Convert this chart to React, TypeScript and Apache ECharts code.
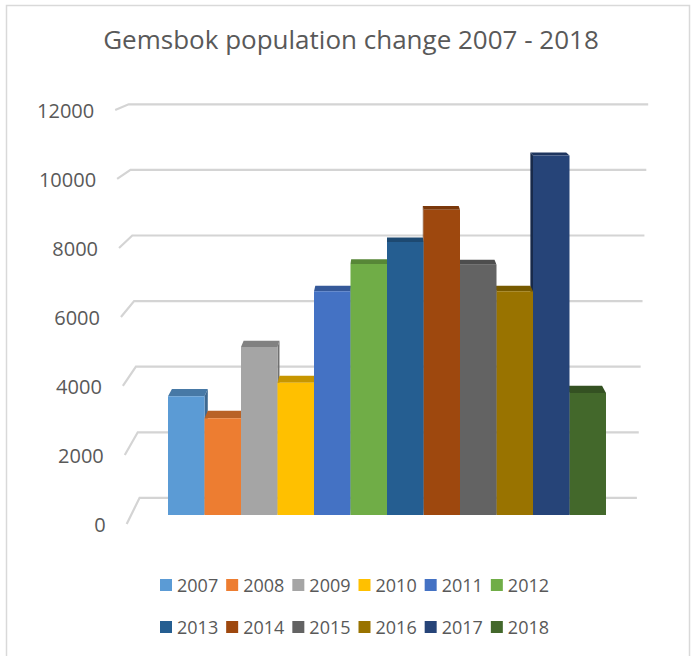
import React, { useEffect, useRef } from 'react';
import * as echarts from 'echarts';

const YEARS = ['2007', '2008', '2009', '2010', '2011', '2012', '2013', '2014', '2015', '2016', '2017', '2018'];
const POPULATION = [3500, 2850, 4950, 3900, 6600, 7400, 8050, 9000, 7380, 6600, 10600, 3600];
const TICKS = [0, 2000, 4000, 6000, 8000, 10000, 12000];
const COLORS = ['#5B9BD5', '#ED7D31', '#A5A5A5', '#FFC000', '#4472C4', '#70AD47', '#255E91', '#9E480E', '#636363', '#997300', '#264478', '#43682B'];

const Y_MAX = 12000;
const CENTER = 5.5; // centre of the bar row in category units
const V_VALUE = 15300; // height of the vanishing point in value units
const K_BACK = 0.982; // depth of the bars' back faces
const K_WALL = 0.967; // depth of the back wall
const K_FRONT = 1.0173; // depth of the front edge of the floor
const WALL_LEFT = [-1.51, -1.82];
const WALL_RIGHT = [12.58, 12.9];
const FONT = '"Open Sans", "Noto Sans", sans-serif';
const TEXT = '#595959';

function shade(hex: string, f: number): string {
  const n = parseInt(hex.slice(1), 16);
  const r = Math.round(((n >> 16) & 255) * f);
  const g = Math.round(((n >> 8) & 255) * f);
  const b = Math.round((n & 255) * f);
  return `rgb(${r},${g},${b})`;
}

function toward(V: number[], p: number[], k: number): number[] {
  return [V[0] + (p[0] - V[0]) * k, V[1] + (p[1] - V[1]) * k];
}

export default function App() {
  const ref = useRef<HTMLDivElement>(null);

  useEffect(() => {
    document.body.style.margin = '0';
    if (!ref.current) return;
    const chart = echarts.init(ref.current, undefined, { renderer: 'svg' });

    const wallSeries: any = {
      type: 'custom',
      name: 'wall',
      z: 1,
      silent: true,
      clip: false,
      data: TICKS.map((v) => [CENTER, v]),
      encode: { x: 0, y: 1 },
      renderItem: (params: any, api: any) => {
        const v = api.value(1);
        const t = v / Y_MAX;
        const V = api.coord([CENTER, V_VALUE]);
        const pl = api.coord([WALL_LEFT[0] + (WALL_LEFT[1] - WALL_LEFT[0]) * t, v]);
        const pr = api.coord([WALL_RIGHT[0] + (WALL_RIGHT[1] - WALL_RIGHT[0]) * t, v]);
        const front = toward(V, pl, K_FRONT);
        const wl = toward(V, pl, K_WALL);
        const wr = toward(V, pr, K_WALL);
        return {
          type: 'group',
          children: [
            {
              type: 'polyline',
              shape: { points: [front, wl, wr] },
              style: { stroke: '#d4d4d4', lineWidth: 2.2, fill: null },
            },
            {
              type: 'text',
              x: front[0] - 21,
              y: front[1] + 1,
              style: {
                text: String(v),
                fill: TEXT,
                fontSize: 20,
                fontFamily: FONT,
                align: 'right',
                verticalAlign: 'middle',
              },
            },
          ],
        };
      },
    };

    const barSeries = YEARS.map((year, i) => {
      const color = COLORS[i];
      return {
        type: 'custom',
        name: year,
        z: 2 + (i <= 5 ? i : 11 - i),
        clip: false,
        itemStyle: { color },
        data: [[i, POPULATION[i]]],
        encode: { x: 0, y: 1 },
        renderItem: (params: any, api: any) => {
          const x = api.value(0);
          const v = api.value(1);
          const V = api.coord([CENTER, V_VALUE]);
          const bl = api.coord([x - 0.5, 0]);
          const tr = api.coord([x + 0.5, v]);
          const ftl = [bl[0], tr[1]];
          const ftr = [tr[0], tr[1]];
          const fbr = [tr[0], bl[1]];
          const fbl = [bl[0], bl[1]];
          const back = (p: number[]) => toward(V, p, K_BACK);
          const children: any[] = [];
          if (ftr[0] <= V[0] + 0.5) {
            children.push({
              type: 'polygon',
              shape: { points: [ftr, back(ftr), back(fbr), fbr] },
              style: { fill: shade(color, 0.68) },
            });
          } else if (ftl[0] >= V[0] - 0.5) {
            children.push({
              type: 'polygon',
              shape: { points: [ftl, back(ftl), back(fbl), fbl] },
              style: { fill: shade(color, 0.62) },
            });
          }
          children.push({
            type: 'polygon',
            shape: { points: [ftl, ftr, back(ftr), back(ftl)] },
            style: { fill: shade(color, 0.78) },
          });
          children.push({
            type: 'rect',
            shape: { x: bl[0], y: tr[1], width: tr[0] - bl[0], height: bl[1] - tr[1] },
            style: { fill: color },
          });
          return { type: 'group', children };
        },
      };
    });

    const legendBase = {
      left: 160,
      itemWidth: 12,
      itemHeight: 12,
      itemGap: 8,
      padding: 0,
      icon: 'rect',
      selectedMode: false,
      textStyle: { color: TEXT, fontSize: 18, fontFamily: FONT },
    };

    chart.setOption({
      animation: false,
      backgroundColor: '#ffffff',
      title: {
        text: 'Gemsbok population change 2007 - 2018',
        left: 351,
        top: 26,
        padding: 0,
        textAlign: 'center',
        textStyle: { fontSize: 26, fontWeight: 'normal', color: TEXT, fontFamily: FONT },
      },
      legend: [
        { ...legendBase, top: 576, data: YEARS.slice(0, 6) },
        { ...legendBase, top: 618, data: YEARS.slice(6) },
      ],
      grid: { left: 168, right: 85, top: 108, bottom: 141 },
      xAxis: { type: 'value', min: -0.5, max: 11.5, show: false },
      yAxis: { type: 'value', min: 0, max: Y_MAX, show: false },
      graphic: [
        {
          type: 'rect',
          shape: { x: 6.5, y: 5.5, width: 683, height: 700 },
          style: { fill: null, stroke: '#d9d9d9', lineWidth: 1.5 },
          silent: true,
          z: 0,
        },
      ],
      series: [wallSeries, ...barSeries],
    });

    return () => {
      chart.dispose();
    };
  }, []);

  return <div ref={ref} style={{ width: 691, height: 656 }} />;
}
